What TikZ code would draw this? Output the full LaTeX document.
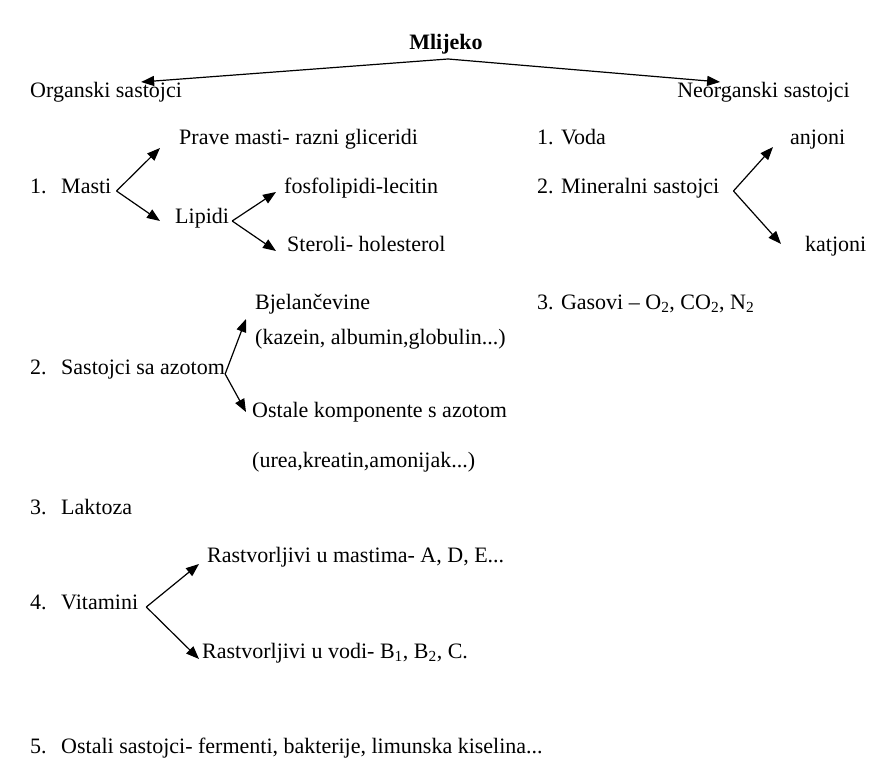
\documentclass[tikz,border=0pt]{standalone}
\usepackage{fontspec}
\setmainfont{Liberation Serif}
\usetikzlibrary{arrows.meta,calc}
\tikzstyle{txt} = [inner sep=0pt,anchor=mid west,yshift=-4pt,font=\fontsize{22}{26}\selectfont]

\begin{document}
\begin{tikzpicture}
		[
		x=1pt,y=-1pt,
		item/.style={
		txt},
		arr/.style={
		line width=1.2pt,
		-{Triangle[length=13pt,width=10pt]}}
		]
		\useasboundingbox (0,0) rectangle (886,783);
		\node[txt,anchor=mid](mlijeko) at (446,43) {\textbf{Mlijeko}};
		\node[txt](organski) at (30,91) {Organski sastojci};
		\node[txt,anchor=mid east](neorganski) at (850,91) {Neorganski sastojci};
		% organski
		\node[txt](prave) at (179,138) {Prave masti- razni gliceridi};
		\node[item](masti) at (30,187) {\makebox[31pt][l]{1.}Masti};
		\node[txt](lipidi) at (175,217) {Lipidi};
		\node[txt](fosfo) at (284,187) {fosfolipidi-lecitin};
		\node[txt](steroli) at (287,245) {Steroli- holesterol};
		\node[txt](bjel) at (255,303) {Bjelančevine};
		\node[txt](kazein) at (255,338) {(kazein, albumin,globulin...)};
		\node[item](azot) at (30,368) {\makebox[31pt][l]{2.}Sastojci sa azotom};
		\node[txt](ostale) at (252,411) {Ostale komponente s azotom};
		\node[txt](urea) at (252,461) {(urea,kreatin,amonijak...)};
		\node[item](laktoza) at (30,508) {\makebox[31pt][l]{3.}Laktoza};
		\node[txt](mastima) at (207,556) {Rastvorljivi u mastima- A, D, E...};
		\node[item](vitamini) at (30,603) {\makebox[31pt][l]{4.}Vitamini};
		\node[txt](vodi) at (202,652) {Rastvorljivi u vodi- B\textsubscript{1}, B\textsubscript{2}, C.};
		\node[item](ostali) at (30,747) {\makebox[31pt][l]{5.}Ostali sastojci- fermenti, bakterije, limunska kiselina...};
		% neorganski
		\node[txt](voda) at (537,138) {1. Voda};
		\node[txt](mineralni) at (537,187) {2. Mineralni sastojci};
		\node[txt](anjoni) at (790,138) {anjoni};
		\node[txt](katjoni) at (805,245) {katjoni};
		\node[txt](gasovi) at (537,303) {3. Gasovi -- O\textsubscript{2}, CO\textsubscript{2}, N\textsubscript{2}};
		% arrows
		\draw[arr] ($(mlijeko.mid)+(2,12)$) -- ($(organski.mid east)+(-41,-13)$);
		\draw[arr] ($(mlijeko.mid)+(2,12)$) -- ($(neorganski.mid west)+(43,-13)$);
		\draw[arr] ($(masti.mid east)+(5,0)$) -- ($(prave.mid west)+(-19,6)$);
		\draw[arr] ($(masti.mid east)+(5,0)$) -- ($(lipidi.mid west)+(-15,0)$);
		\draw[arr] ($(lipidi.mid east)+(3,0)$) -- ($(fosfo.mid west)+(-8,1)$);
		\draw[arr] ($(lipidi.mid east)+(3,0)$) -- ($(steroli.mid west)+(-11,2)$);
		\draw[arr] ($(azot.mid east)+(0,2)$) -- ($(bjel.mid west)+(-9,12)$);
		\draw[arr] ($(azot.mid east)+(0,2)$) -- ($(ostale.mid west)+(-6,-3)$);
		\draw[arr] ($(vitamini.mid east)+(8,0)$) -- ($(mastima.mid west)+(-8,4)$);
		\draw[arr] ($(vitamini.mid east)+(8,0)$) -- ($(vodi.mid west)+(-3,3)$);
		\draw[arr] ($(mineralni.mid east)+(14,0)$) -- ($(anjoni.mid west)+(-17,5)$);
		\draw[arr] ($(mineralni.mid east)+(14,0)$) -- ($(katjoni.mid west)+(-24,-5)$);
		\end{tikzpicture}
\end{document}
